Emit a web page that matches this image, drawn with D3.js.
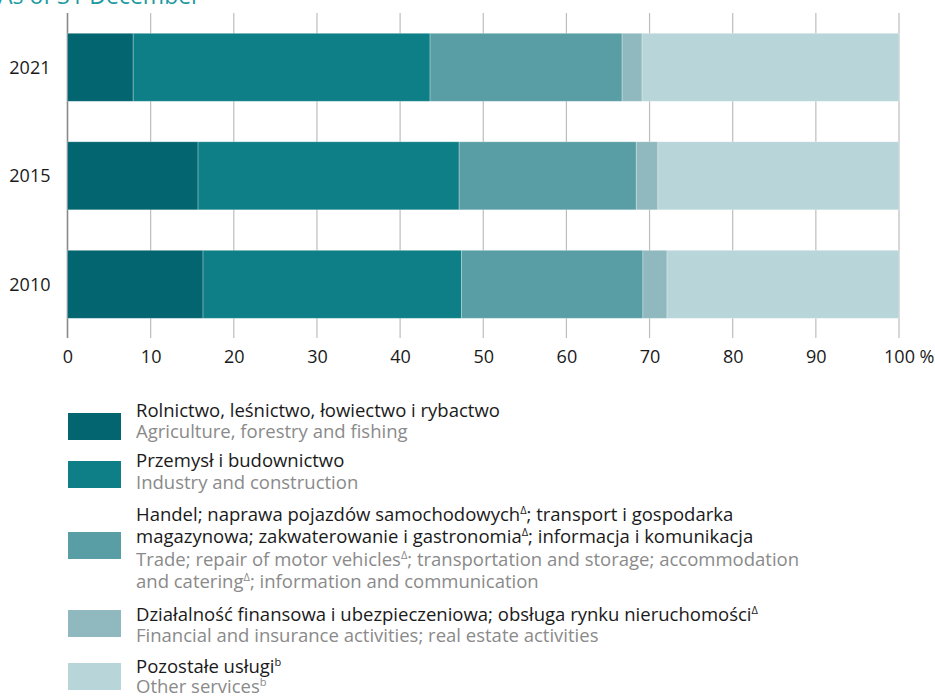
<!DOCTYPE html>
<html>
<head>
<meta charset="utf-8">
<script src="https://cdn.jsdelivr.net/npm/d3@7"></script>
<style>
  body { margin: 0; background: #fff; }
  text { font-family: "Open Sans", "Noto Sans", sans-serif; }
</style>
</head>
<body>
<div id="wrapper"></div>
<script>
// Data
const years = ["2021", "2015", "2010"]
const agriculture = [7.9, 15.7, 16.3]
const industry = [35.7, 31.4, 31.1]
const trade = [23.1, 21.3, 21.8]
const finance = [2.4, 2.6, 2.9]
const otherServices = [30.9, 29.0, 27.9]
const xTicks = [0, 10, 20, 30, 40, 50, 60, 70, 80, 90, 100]

const seriesKeys = ["agriculture", "industry", "trade", "finance", "other"]
const seriesColors = ["#036570", "#0f7f87", "#5a9ea5", "#8fb9be", "#b8d5d9"]

// legend texts, "^" marks a superscript
const legendPl = [
  ["Rolnictwo, leśnictwo, łowiectwo i rybactwo"],
  ["Przemysł i budownictwo"],
  ["Handel; naprawa pojazdów samochodowych^Δ^; transport i gospodarka",
   "magazynowa; zakwaterowanie i gastronomia^Δ^; informacja i komunikacja"],
  ["Działalność finansowa i ubezpieczeniowa; obsługa rynku nieruchomości^Δ"],
  ["Pozostałe usługi^b"],
]
const legendEn = [
  ["Agriculture, forestry and fishing"],
  ["Industry and construction"],
  ["Trade; repair of motor vehicles^Δ^; transportation and storage; accommodation",
   "and catering^Δ^; information and communication"],
  ["Financial and insurance activities; real estate activities"],
  ["Other services^b"],
]

const table = years.map((y, i) => ({
  year: y,
  agriculture: agriculture[i],
  industry: industry[i],
  trade: trade[i],
  finance: finance[i],
  other: otherServices[i],
}))

// Dimensions
const dimensions = {
  width: 935,
  height: 697,
  margin: { top: 13, right: 36, bottom: 359, left: 67.5 },
}
dimensions.boundedWidth = dimensions.width - dimensions.margin.left - dimensions.margin.right
dimensions.boundedHeight = dimensions.height - dimensions.margin.top - dimensions.margin.bottom

const svg = d3.select("#wrapper")
  .append("svg")
  .attr("width", dimensions.width)
  .attr("height", dimensions.height)

// partially visible header
svg.append("text")
  .attr("x", -2)
  .attr("y", 3.5)
  .attr("fill", "#1b9aa1")
  .style("font-size", "23px")
  .text("As of 31 December")

const bounds = svg.append("g")
  .attr("transform", `translate(${dimensions.margin.left},${dimensions.margin.top})`)

// Scales
const xScale = d3.scaleLinear()
  .domain([0, 100])
  .range([0, 831.5])

const yScale = d3.scaleBand()
  .domain(years)
  .range([-20.2, 345.8])
  .paddingInner(0.373)
  .paddingOuter(0.373)

const stacked = d3.stack().keys(seriesKeys)(table)

// Gridlines
bounds.append("g")
  .selectAll("line")
  .data(xTicks)
  .join("line")
  .attr("x1", d => xScale(d))
  .attr("x2", d => xScale(d))
  .attr("y1", 0)
  .attr("y2", dimensions.boundedHeight)
  .attr("stroke", d => d === 0 ? "#8a8a8a" : "#bdbdbd")
  .attr("stroke-width", d => d === 0 ? 1.6 : 1.2)

// Bars
bounds.append("g")
  .selectAll("g")
  .data(stacked)
  .join("g")
  .attr("fill", (d, i) => seriesColors[i])
  .selectAll("rect")
  .data(d => d)
  .join("rect")
  .attr("x", d => xScale(d[0]))
  .attr("width", d => xScale(d[1]) - xScale(d[0]))
  .attr("y", d => yScale(d.data.year))
  .attr("height", yScale.bandwidth())
  .attr("stroke", "rgba(255,255,255,0.35)")
  .attr("stroke-width", 0.8)

// Year labels
bounds.append("g")
  .selectAll("text")
  .data(years)
  .join("text")
  .attr("x", -17)
  .attr("y", d => yScale(d) + yScale.bandwidth() / 2)
  .attr("dy", "0.36em")
  .attr("text-anchor", "end")
  .attr("fill", "#1a1a1a")
  .style("font-size", "18px")
  .text(d => d)

// X axis labels
const xAxis = bounds.append("g")
  .attr("transform", `translate(0,${dimensions.boundedHeight})`)
  .call(d3.axisBottom(xScale).tickValues(xTicks).tickSize(0).tickPadding(12)
    .tickFormat(d => d))
xAxis.select(".domain").remove()
xAxis.selectAll("text")
  .attr("fill", "#1a1a1a")
  .style("font-size", "18px")
  .style("font-family", "'Open Sans', sans-serif")

const lastLabel = xAxis.selectAll(".tick text").filter(d => d === 100)
const halfW = lastLabel.node().getComputedTextLength() / 2
lastLabel.attr("text-anchor", "start").attr("x", -halfW)
lastLabel.append("tspan").text(" %")

// Legend
const swatchTops = [413, 461, 532, 610, 663]
const firstBaselines = [416.7, 466.7, 520.7, 620.5, 672.5]
const lineHeights = [21, 22.5, 22.5, 21, 20.8]

function addRich(textSel, str) {
  const parts = str.split("^")
  parts.forEach((p, i) => {
    if (!p) return
    const t = textSel.append("tspan").text(p)
    if (i % 2 === 1) t.attr("baseline-shift", "super").style("font-size", "11px")
  })
}

const legend = svg.append("g")
legendPl.forEach((pl, i) => {
  const g = legend.append("g")
  g.append("rect")
    .attr("x", 68)
    .attr("y", swatchTops[i])
    .attr("width", 53)
    .attr("height", 27)
    .attr("fill", seriesColors[i])
  pl.forEach((ln, j) => {
    const t = g.append("text")
      .attr("x", 136)
      .attr("y", firstBaselines[i] + j * lineHeights[i])
      .attr("fill", "#1a1a1a")
      .style("font-size", "18.5px")
    addRich(t, ln)
  })
  legendEn[i].forEach((ln, j) => {
    const t = g.append("text")
      .attr("x", 136)
      .attr("y", firstBaselines[i] + (pl.length + j) * lineHeights[i])
      .attr("fill", "#8a8a8a")
      .style("font-size", "18.5px")
    addRich(t, ln)
  })
})
</script>
</body>
</html>
